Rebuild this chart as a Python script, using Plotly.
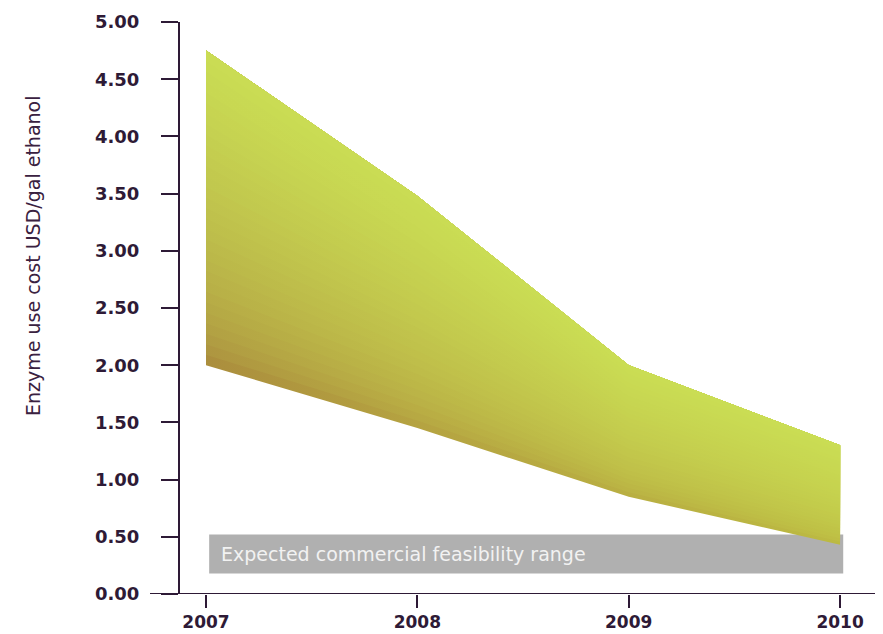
import plotly.graph_objects as go

# ---- data ----
years = [2007, 2008, 2009, 2010]
upper_cost = [4.75, 3.48, 2.00, 1.30]
lower_cost = [2.00, 1.45, 0.85, 0.43]
feasibility_low = 0.18
feasibility_high = 0.52
feasibility_label = "Expected commercial feasibility range"
y_ticks = [0, 0.5, 1.0, 1.5, 2.0, 2.5, 3.0, 3.5, 4.0, 4.5, 5.0]
y_tick_labels = ["0.00", "0.50", "1.00", "1.50", "2.00", "2.50", "3.00", "3.50", "4.00", "4.50", "5.00"]
x_tick_labels = ["2007", "2008", "2009", "2010"]
y_title = "Enzyme use cost USD/gal ethanol"

# ---- style ----
DARK = "#2e1a36"
bottom_cols = ["#a6823a", "#b29a3e", "#b7a83f", "#bab53f"]
top_col = "#cadd54"
BODY = 8  # default page body margin in the html output


def hex2rgb(h):
    h = h.lstrip("#")
    return [int(h[i:i + 2], 16) for i in (0, 2, 4)]


def mix(c1, c2, f):
    a, b = hex2rgb(c1), hex2rgb(c2)
    return "rgb(%d,%d,%d)" % tuple(round(a[i] + (b[i] - a[i]) * f) for i in range(3))


fig = go.Figure()

N = 30
for i in range(N):
    t = i / N
    tc = (i + 0.5) / N
    f = tc ** 0.5
    lo = [l + t * (u - l) for l, u in zip(lower_cost, upper_cost)]
    xs = years + years[::-1]
    ys = lo + upper_cost[::-1]
    cs = [[k / (len(years) - 1), mix(bottom_cols[k], top_col, f)] for k in range(len(years))]
    fig.add_trace(go.Scatter(
        x=xs, y=ys, mode="lines", fill="toself",
        line=dict(width=0, color="rgba(0,0,0,0)"),
        fillcolor=cs[0][1],
        fillgradient=dict(type="horizontal", colorscale=cs),
        hoverinfo="skip", showlegend=False,
    ))

# feasibility box (below traces)
fig.add_shape(type="rect", xref="x", yref="y",
              x0=years[0] + 0.015, x1=years[-1] + 0.015,
              y0=feasibility_low, y1=feasibility_high,
              fillcolor="#b0b0b0", line=dict(width=0), layer="below")
fig.add_annotation(x=years[0] + 0.06, y=(feasibility_low + feasibility_high) / 2,
                   xref="x", yref="y", text=feasibility_label, showarrow=False,
                   xanchor="left", yanchor="middle",
                   font=dict(family="DejaVu Sans", size=19, color="#f2f2f2"))

# y-axis title
fig.add_annotation(x=(33 - 180) / 700, y=0.591, xref="paper", yref="paper",
                   text=y_title, showarrow=False, textangle=-90,
                   xanchor="center", yanchor="middle",
                   font=dict(family="DejaVu Sans", size=19, color="#3a2140"))

# x axis baseline extending left of y axis
fig.add_shape(type="line", xref="paper", yref="y", x0=-30 / 700, x1=1, y0=0, y1=0,
              line=dict(color=DARK, width=2))

fig.update_layout(
    width=883 - BODY, height=634 - BODY,
    margin=dict(l=180 - BODY, r=3, t=22 - BODY, b=40),
    paper_bgcolor="white", plot_bgcolor="white",
    showlegend=False,
    xaxis=dict(
        range=[2006.877, 2010.189], automargin=False,
        tickvals=years, ticktext=x_tick_labels,
        ticks="outside", ticklen=13, tickwidth=2, tickcolor=DARK,
        showgrid=False, zeroline=False, showline=False,
        tickfont=dict(family="DejaVu Sans", size=17, color=DARK, weight="bold"),
    ),
    yaxis=dict(
        range=[0, 5], automargin=False,
        tickvals=y_ticks, ticktext=y_tick_labels,
        ticks="outside", ticklen=17, tickwidth=2, tickcolor=DARK,
        ticklabelstandoff=18,
        showgrid=False, zeroline=False, showline=True, linecolor=DARK, linewidth=2,
        tickfont=dict(family="DejaVu Sans", size=18, color=DARK, weight="bold"),
    ),
)

fig.write_html("out.html")
